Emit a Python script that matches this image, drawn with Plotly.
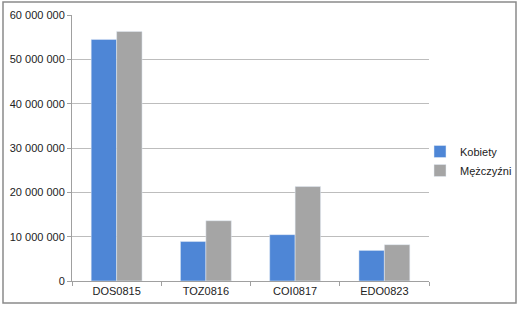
import plotly.graph_objects as go

categories = ["DOS0815", "TOZ0816", "COI0817", "EDO0823"]
kobiety = [54500000, 8900000, 10450000, 6900000]
mezczyzni = [56300000, 13600000, 21300000, 8200000]
y_ticks = [0, 10000000, 20000000, 30000000, 40000000, 50000000, 60000000]

W, H = 520, 312
L, R, T, B = 72, 91, 15, 31
pw, ph = W - L - R, H - T - B

fig = go.Figure()
fig.add_trace(go.Bar(x=categories, y=kobiety, name="Kobiety", marker_color="#4e86d6"))
fig.add_trace(go.Bar(x=categories, y=mezczyzni, name="Mężczyźni", marker_color="#a5a5a5"))

font = dict(family="Liberation Sans, Arial, sans-serif", size=11, color="#222222")
fig.update_layout(
    width=W, height=H,
    margin=dict(l=L, r=R, t=T, b=B, autoexpand=False),
    paper_bgcolor="white", plot_bgcolor="white",
    separators=", ",
    barmode="group", bargap=0.43, bargroupgap=0,
    font=font,
    legend=dict(x=(420 - L) / pw, y=(281 - 161) / ph, xanchor="left", yanchor="middle",
                font=dict(size=11), itemwidth=30, tracegroupgap=2, bgcolor="rgba(0,0,0,0)"),
    xaxis=dict(showline=True, linecolor="#a0a0a0", ticks="outside", tickson="boundaries",
               ticklen=4, tickcolor="#a0a0a0", showgrid=False, tickfont=font),
    yaxis=dict(range=[0, 60000000], tickvals=y_ticks, tickformat=",d",
               showgrid=True, gridcolor="#bdbdbd", gridwidth=1,
               showline=True, linecolor="#a0a0a0", ticks="outside", ticklen=4,
               tickcolor="#a0a0a0", zeroline=False, tickfont=font),
    shapes=[dict(type="rect", xref="paper", yref="paper",
                 x0=(3 - L) / pw, x1=(516 - L) / pw,
                 y0=(H - B - 303) / ph, y1=(H - B - 2) / ph,
                 line=dict(color="#8a8a8a", width=1.5))],
)
fig.write_html("out.html")
